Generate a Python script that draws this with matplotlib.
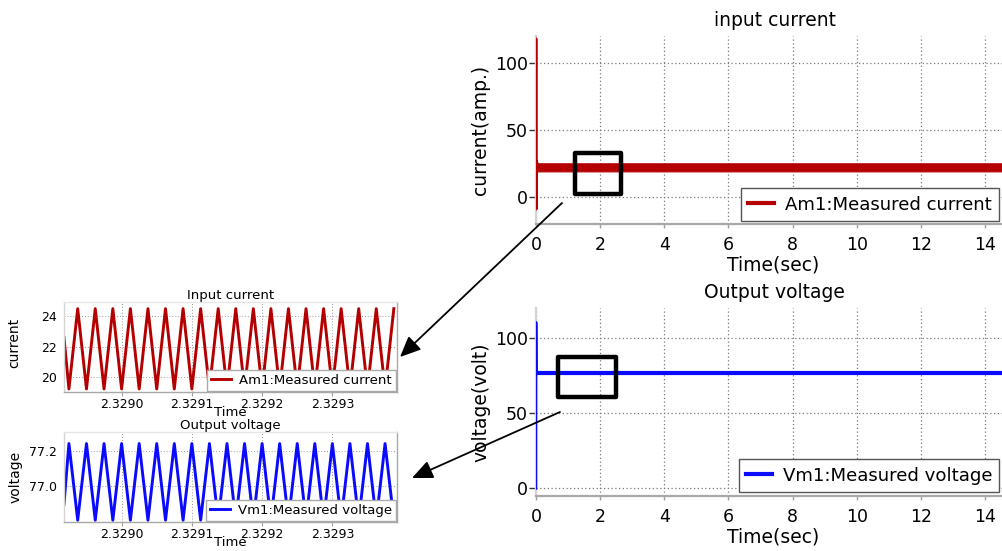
import matplotlib
matplotlib.use("Agg")
import matplotlib.pyplot as plt
from matplotlib.patches import Rectangle, FancyArrowPatch

# ---------------- data ----------------
main_xticks = [0, 2, 4, 6, 8, 10, 12, 14]
main_yticks = [0, 50, 100]

# input current (main plot): start-up spike + switching band
i_spike_t = [0.0, 0.004, 0.008, 0.012, 0.02, 0.03]
i_spike_v = [0.0, 118.0, -9.0, 27.0, 16.0, 22.0]
i_band_t = [0.03, 0.06, 15.2]
i_band_lo = [18.8, 19.2, 19.2]
i_band_hi = [26.5, 25.2, 25.2]

# output voltage (main plot)
v_spike_t = [0.0, 0.004, 0.012, 0.03]
v_spike_v = [0.0, 110.5, 80.0, 77.0]
v_steady_t = [0.03, 15.2]
v_steady_v = [77.0, 77.0]

# zoomed input current (triangle vertices)
zi_t = [2.328918, 2.328925, 2.3289375, 2.328950, 2.3289625, 2.328975, 2.3289875,
        2.329000, 2.3290125, 2.329025, 2.3290375, 2.329050, 2.3290625, 2.329075,
        2.3290875, 2.329100, 2.3291125, 2.329125, 2.3291375, 2.329150, 2.3291625,
        2.329175, 2.3291875, 2.329200, 2.3292125, 2.329225, 2.3292375, 2.329250,
        2.3292625, 2.329275, 2.3292875, 2.329300, 2.3293125, 2.329325, 2.3293375,
        2.329350, 2.3293625, 2.329375, 2.3293875]
zi_v = [22.6, 19.2, 24.5, 19.2, 24.5, 19.2, 24.5,
        19.2, 24.5, 19.2, 24.5, 19.2, 24.5, 19.2,
        24.5, 19.2, 24.5, 19.2, 24.5, 19.2, 24.5,
        19.2, 24.5, 19.2, 24.5, 19.2, 24.5, 19.2,
        24.5, 19.2, 24.5, 19.2, 24.5, 19.2, 24.5,
        19.2, 24.5, 19.2, 24.5]

# zoomed output voltage (triangle vertices)
zv_t = zi_t
zv_v = [76.90, 77.24, 76.81, 77.24, 76.81, 77.24, 76.81,
        77.24, 76.81, 77.24, 76.81, 77.24, 76.81, 77.24,
        76.81, 77.24, 76.81, 77.24, 76.81, 77.24, 76.81,
        77.24, 76.81, 77.24, 76.81, 77.24, 76.81, 77.24,
        76.81, 77.24, 76.81, 77.24, 76.81, 77.24, 76.81,
        77.24, 76.81, 77.24, 76.81]

zoom_xticks = [2.3290, 2.3291, 2.3292, 2.3293]
zoom_xlabels = ["2.3290", "2.3291", "2.3292", "2.3293"]
zi_yticks = [20, 22, 24]
zv_yticks = [77.0, 77.2]
zv_ylabels = ["77.0", "77.2"]

RED = "#b40000"
BLUE = "#0a0aff"

# ---------------- figure ----------------
W, H = 1002, 551
fig = plt.figure(figsize=(W / 100, H / 100), dpi=100)


def rect(l, t, r, b):
    return [l / W, 1 - b / H, (r - l) / W, (b - t) / H]


ax1 = fig.add_axes(rect(536, 36, 1002, 224))
ax2 = fig.add_axes(rect(536, 308, 1002, 496))
ax3 = fig.add_axes(rect(64, 302, 397, 392))
ax4 = fig.add_axes(rect(64, 432, 397, 522))


def style_main(ax, ylim):
    ax.set_xlim(0, 14.53)
    ax.set_ylim(*ylim)
    ax.set_xticks(main_xticks)
    ax.set_yticks(main_yticks)
    ax.set_axisbelow(True)
    ax.grid(True, linestyle=(0, (1, 2)), color="#7a7a7a", lw=0.9)
    for s in ("top", "right"):
        ax.spines[s].set_visible(False)
    ax.spines["left"].set_color("#d4d4d4")
    ax.spines["left"].set_linewidth(1.6)
    ax.spines["bottom"].set_color("#a8a8a8")
    ax.spines["bottom"].set_linewidth(1.6)
    ax.tick_params(axis="y", length=5, width=1, color="#333333", pad=1, labelsize=12.5)
    ax.tick_params(axis="x", length=3, width=1, color="#a0a0a0", pad=6, labelsize=12.5)
    ax.set_xlabel("Time(sec)", fontsize=13.5, labelpad=1)
    ax.xaxis.label.set_x(0.508)


style_main(ax1, (-20, 120))
style_main(ax2, (-5, 120))

ax1.plot(i_spike_t, i_spike_v, color=RED, lw=1.8, zorder=3)
ax1.fill_between(i_band_t, i_band_lo, i_band_hi, color=RED, lw=0.8, zorder=3)
ax1.plot([], [], color=RED, lw=3, label="Am1:Measured current")
ax1.set_title("input current", fontsize=13.5, x=0.512, pad=7)
ax1.set_ylabel("current(amp.)", fontsize=13.5, labelpad=3)

ax2.plot(v_spike_t, v_spike_v, color=BLUE, lw=1.8, zorder=3)
ax2.plot(v_steady_t, v_steady_v, color=BLUE, lw=3, zorder=3, label="Vm1:Measured voltage")
ax2.set_title("Output voltage", fontsize=13.5, x=0.512, pad=7)
ax2.set_ylabel("voltage(volt)", fontsize=13.5, labelpad=3)

leg_kw = dict(loc="lower left", bbox_transform=fig.transFigure, borderaxespad=0,
              fontsize=13.1, fancybox=False, edgecolor="#555555", framealpha=1,
              handlelength=1.4, handletextpad=0.6)
l1 = ax1.legend(bbox_to_anchor=(741 / W, 1 - 221 / H), **leg_kw)
l2 = ax2.legend(bbox_to_anchor=(739 / W, 1 - 492 / H), **leg_kw)
for lg in (l1, l2):
    lg.get_frame().set_linewidth(1.0)

# zoom indicator boxes
ax1.add_patch(Rectangle((1.23, 2.7), 1.42, 30.1, fill=False, ec="black", lw=3.2,
                        joinstyle="round", zorder=6))
ax2.add_patch(Rectangle((0.69, 60.6), 1.80, 26.8, fill=False, ec="black", lw=3.2,
                        joinstyle="round", zorder=6))


def style_zoom(ax, ylim):
    ax.set_xlim(2.328918, 2.329392)
    ax.set_ylim(*ylim)
    ax.set_xticks(zoom_xticks)
    ax.set_xticklabels(zoom_xlabels)
    ax.set_axisbelow(True)
    ax.grid(True, linestyle=(0, (1, 2)), color="#9a9a9a", lw=0.7)
    ax.spines["left"].set_color("#d4d4d4")
    ax.spines["top"].set_color("#e6e6e6")
    ax.spines["right"].set_color("#a8a8a8")
    ax.spines["bottom"].set_color("#a8a8a8")
    for s in ax.spines.values():
        s.set_linewidth(1.0)
    ax.tick_params(axis="y", length=0, pad=5, labelsize=9)
    ax.tick_params(axis="x", length=3, color="#a0a0a0", pad=1, labelsize=9)
    ax.set_xlabel("Time", fontsize=9.5, labelpad=-3)


style_zoom(ax3, (19.0, 24.94))
ax3.set_yticks(zi_yticks)
ax3.plot(zi_t, zi_v, color=RED, lw=2.1, label="Am1:Measured current")
ax3.set_title("Input current", fontsize=9.5, pad=2)
ax3.set_ylabel("current", fontsize=10, family=["Liberation Sans Narrow", "DejaVu Sans"])
ax3.yaxis.set_label_coords(-0.128, 0.54)

style_zoom(ax4, (76.80, 77.305))
ax4.set_yticks(zv_yticks)
ax4.set_yticklabels(zv_ylabels)
ax4.plot(zv_t, zv_v, color=BLUE, lw=2.1, label="Vm1:Measured voltage")
ax4.set_title("Output voltage", fontsize=9.5, pad=1)
ax4.set_ylabel("voltage", fontsize=10, family=["Liberation Sans Narrow", "DejaVu Sans"])
ax4.yaxis.set_label_coords(-0.125, 0.5)

zl_kw = dict(loc="lower right", fontsize=9.5, fancybox=False, edgecolor="#aaaaaa",
             framealpha=1, borderaxespad=0.1, handlelength=1.5, handletextpad=0.6,
             borderpad=0.3)
for ax in (ax3, ax4):
    lg = ax.legend(**zl_kw)
    lg.get_frame().set_linewidth(1.0)

# arrows from zoom boxes to insets
for (x0, y0), (x1, y1) in (((562, 203), (400, 357)), ((560, 412), (412, 478))):
    arr = FancyArrowPatch(posA=(x0 / W, 1 - y0 / H), posB=(x1 / W, 1 - y1 / H),
                          transform=fig.transFigure,
                          arrowstyle="-|>,head_length=0.9,head_width=0.4",
                          mutation_scale=14, lw=1.3, color="black",
                          shrinkA=0, shrinkB=0, zorder=10)
    fig.add_artist(arr)

fig.savefig("out.png", dpi=100)
